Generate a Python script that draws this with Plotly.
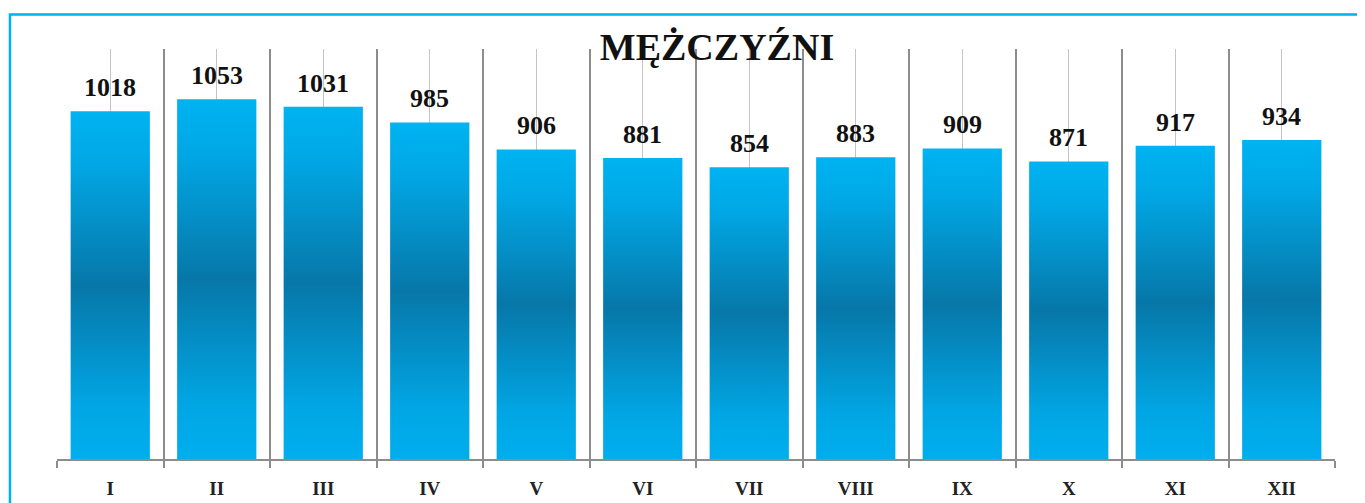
"""Monthly counts for men, gradient bar chart."""

import plotly.graph_objects as go

months = ["I", "II", "III", "IV", "V", "VI", "VII", "VIII", "IX", "X", "XI", "XII"]
counts = [1018, 1053, 1031, 985, 906, 881, 854, 883, 909, 871, 917, 934]

TITLE = "MĘŻCZYŹNI"
SERIF = "Liberation Serif, Times New Roman, serif"
BAR_HALF = 0.372
BAR_SCALE = [
    [0.0, "#00aeee"],
    [0.15, "#01a6e4"],
    [0.5, "#0777a8"],
    [0.85, "#01a7e5"],
    [1.0, "#00b3f1"],
]

fig = go.Figure()
for i, value in enumerate(counts):
    x0, x1 = i - BAR_HALF, i + BAR_HALF
    fig.add_trace(
        go.Scatter(
            x=[x0, x1, x1, x0, x0],
            y=[0, 0, value, value, 0],
            mode="lines",
            line=dict(width=0),
            fill="toself",
            fillgradient=dict(type="vertical", colorscale=BAR_SCALE),
            name=months[i],
            hoverinfo="skip",
            showlegend=False,
        )
    )
    fig.add_annotation(
        x=i,
        y=value,
        text=f"<b>{value}</b>",
        showarrow=False,
        yanchor="bottom",
        yshift=7,
        font=dict(family=SERIF, size=26, color="#111111"),
    )

# light blue frame around the chart (the page body adds an 8px offset)
fig.add_shape(
    type="rect",
    xref="paper",
    yref="paper",
    x0=-0.0368,
    x1=1.03,
    y0=-0.12,
    y1=1.084,
    line=dict(color="#00b0f0", width=2.5),
    fillcolor="rgba(0,0,0,0)",
)

fig.update_layout(
    width=1365,
    height=503,
    margin=dict(l=49, r=38, t=41, b=46),
    paper_bgcolor="white",
    plot_bgcolor="white",
    title=dict(
        text=f"<b>{TITLE}</b>",
        x=709 / 1365,
        xanchor="center",
        y=1 - 39 / 503,
        yanchor="middle",
        font=dict(family=SERIF, size=38, color="#111111"),
    ),
    xaxis=dict(
        range=[-0.5, len(months) - 0.5],
        tickvals=list(range(len(months))),
        ticktext=[f"<b>{m}</b>" for m in months],
        tickfont=dict(family=SERIF, size=19, color="#222222"),
        ticks="",
        ticklabelstandoff=11,
        showgrid=True,
        gridcolor="#c4c4c4",
        gridwidth=1,
        showline=True,
        linecolor="#8c8c8c",
        linewidth=1.5,
        zeroline=False,
        minor=dict(
            tickmode="linear",
            tick0=-0.5,
            dtick=1,
            showgrid=True,
            gridcolor="#8c8c8c",
            gridwidth=1.5,
            ticks="outside",
            ticklen=7,
            tickcolor="#8c8c8c",
            tickwidth=1.5,
        ),
    ),
    yaxis=dict(
        range=[0, 1200],
        showgrid=False,
        showticklabels=False,
        zeroline=False,
        showline=False,
    ),
)

fig.write_html("out.html")
